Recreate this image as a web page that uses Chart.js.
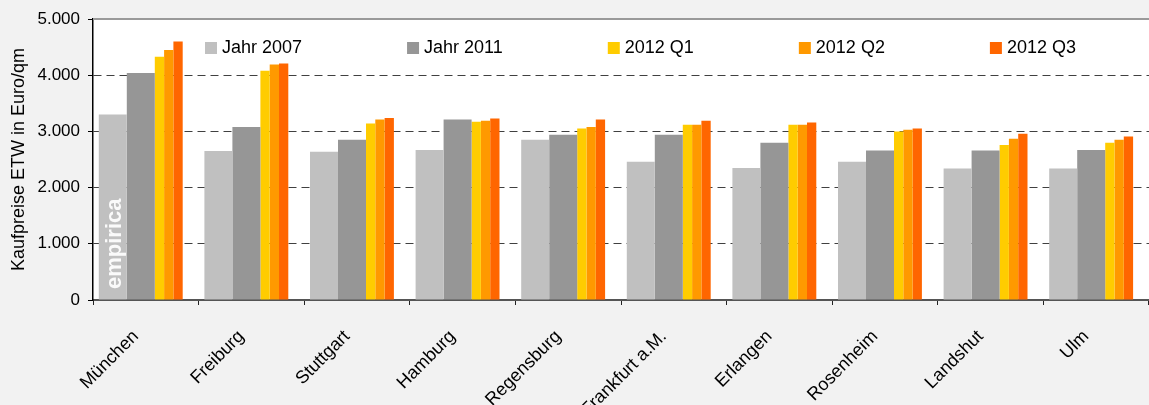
<!DOCTYPE html>
<html lang="de">

<head>
    <meta charset="UTF-8">
    <title>Kaufpreise ETW</title>
    <script src="https://cdn.jsdelivr.net/npm/chart.js"></script>
    <style>
        body {
            margin: 0;
            background-color: #f2f2f2;
        }

        .container {
            position: relative;
            width: 1149px;
            height: 405px;
        }
    </style>
</head>

<body>
    <div class="container">
        <canvas id="preise"></canvas>
    </div>

    <script>
        const staedte = ['München', 'Freiburg', 'Stuttgart', 'Hamburg', 'Regensburg',
            'Frankfurt a.M.', 'Erlangen', 'Rosenheim', 'Landshut', 'Ulm'];
        const serien = ['Jahr 2007', 'Jahr 2011', '2012 Q1', '2012 Q2', '2012 Q3'];

        const jahr2007 = [3300, 2650, 2640, 2670, 2850, 2460, 2350, 2460, 2340, 2340];
        const jahr2011 = [4040, 3080, 2850, 3210, 2940, 2940, 2800, 2660, 2660, 2670];
        const q1_2012 = [4330, 4080, 3140, 3170, 3050, 3120, 3120, 3000, 2760, 2800];
        const q2_2012 = [4450, 4190, 3210, 3190, 3080, 3120, 3120, 3030, 2870, 2850];
        const q3_2012 = [4600, 4210, 3240, 3230, 3210, 3190, 3160, 3050, 2960, 2910];

        const yTicks = [0, 1000, 2000, 3000, 4000, 5000];

        const farben = ['#c0c0c0', '#969696', '#ffcc00', '#ff9900', '#ff6600'];

        // Balken einer Gruppe: die Grauen breit, die Quartale schmal (Anteile einer Kategorie)
        const slotBreiten = [28, 28, 9.3, 9.3, 9.3].map(b => b / 105.6);
        const gruppenStart = -47 / 105.6;

        const slotMitte = [];
        let pos = gruppenStart;
        slotBreiten.forEach(b => {
            slotMitte.push(pos + b / 2);
            pos += b;
        });

        function fmt(v) {
            return String(v).replace(/\B(?=(\d{3})+(?!\d))/g, '.');
        }

        const werte = [jahr2007, jahr2011, q1_2012, q2_2012, q3_2012];
        const datasets = werte.map((d, k) => ({
            label: serien[k],
            data: d,
            backgroundColor: farben[k],
            grouped: false,
            categoryPercentage: 1,
            barPercentage: slotBreiten[k]
        }));

        // schiebt jede Serie auf ihren Platz innerhalb der Gruppe
        const slotVersatz = {
            id: 'slotVersatz',
            afterDatasetsUpdate(chart) {
                const x = chart.scales.x;
                const breite = x.getPixelForValue(1) - x.getPixelForValue(0);
                chart.data.datasets.forEach((ds, k) => {
                    chart.getDatasetMeta(k).data.forEach((bar, i) => {
                        bar.x = x.getPixelForValue(i) + slotMitte[k] * breite;
                    });
                });
            }
        };

        const hintergrund = {
            id: 'hintergrund',
            beforeDraw(chart) {
                const { ctx, chartArea: a } = chart;
                ctx.save();
                ctx.fillStyle = '#ffffff';
                ctx.fillRect(a.left, a.top, a.right - a.left, a.bottom - a.top);
                ctx.restore();
            },
            afterDraw(chart) {
                const { ctx, chartArea: a } = chart;
                ctx.save();
                ctx.strokeStyle = '#9a9a9a';
                ctx.lineWidth = 2;
                ctx.beginPath();
                ctx.moveTo(a.left, a.top);
                ctx.lineTo(a.right, a.top);
                ctx.stroke();

                // Legende im Diagramm
                ctx.font = '18px Arial, "Liberation Sans", sans-serif';
                ctx.textBaseline = 'middle';
                let x = a.left + 112;
                const y = a.top + 29;
                chart.data.datasets.forEach(ds => {
                    ctx.fillStyle = ds.backgroundColor;
                    ctx.fillRect(x, y - 6, 12, 12);
                    ctx.fillStyle = '#000';
                    ctx.fillText(ds.label, x + 17, y);
                    x += 17 + ctx.measureText(ds.label).width + 105;
                });

                // Schriftzug
                ctx.translate(a.left + 22, a.bottom - 11);
                ctx.rotate(-Math.PI / 2);
                ctx.font = 'bold 22px Arial, "Liberation Sans", sans-serif';
                ctx.fillStyle = 'rgba(255,255,255,0.92)';
                ctx.textBaseline = 'middle';
                ctx.fillText('empirica', 0, 0);
                ctx.restore();
            }
        };

        function renderChart() {
            const ctx = document.getElementById('preise').getContext('2d');
            Chart.defaults.font.family = 'Arial, "Liberation Sans", sans-serif';
            Chart.defaults.color = '#000';

            new Chart(ctx, {
                type: 'bar',
                data: { labels: staedte, datasets: datasets },
                plugins: [slotVersatz, hintergrund],
                options: {
                    responsive: true,
                    maintainAspectRatio: false,
                    animation: false,
                    layout: { padding: { top: 19, right: 0, left: 0, bottom: 0 } },
                    plugins: {
                        legend: { display: false },
                        tooltip: { enabled: false }
                    },
                    scales: {
                        x: {
                            grid: { drawOnChartArea: false, tickLength: 5, color: '#222' },
                            border: { color: '#555', width: 2 },
                            ticks: {
                                font: { size: 18 },
                                minRotation: 45,
                                maxRotation: 45,
                                autoSkip: false,
                                padding: 21,
                                labelOffset: -10
                            },
                            afterFit: s => { s.height = 105; }
                        },
                        y: {
                            min: 0,
                            max: 5000,
                            afterBuildTicks: s => { s.ticks = yTicks.map(v => ({ value: v })); },
                            ticks: {
                                font: { size: 17 },
                                padding: 8,
                                callback: v => fmt(v)
                            },
                            grid: {
                                color: c => c.tick && c.tick.value === 5000 ? 'rgba(0,0,0,0)' : '#404040',
                                tickColor: '#000',
                                tickLength: 5
                            },
                            border: { color: '#000', width: 1.5, dash: [8, 5] },
                            title: {
                                display: true,
                                text: 'Kaufpreise ETW in Euro/qm',
                                font: { size: 18 },
                                padding: { top: 8, bottom: 0 }
                            },
                            afterFit: s => { s.width = 93; }
                        }
                    }
                }
            });
        }

        document.addEventListener('DOMContentLoaded', renderChart);
    </script>
</body>

</html>
